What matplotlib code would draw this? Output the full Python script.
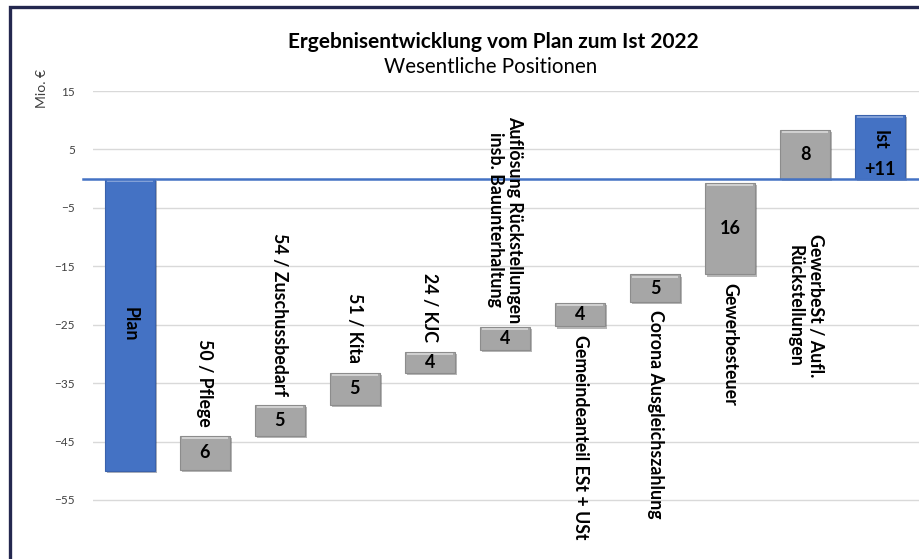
import matplotlib
matplotlib.use("Agg")
import matplotlib.pyplot as plt
import matplotlib.patches as mpatches
import matplotlib.patheffects as pe

plt.rcParams['font.family'] = ['Lato', 'DejaVu Sans']

# waterfall data (Mio. EUR)
categories = ["Plan", "50 / Pflege", "54 / Zuschussbedarf", "51 / Kita", "24 / KJC",
              "Auflösung Rückstellungen\ninsb. Bauunterhaltung",
              "Gemeindeanteil ESt + USt", "Corona Ausgleichszahlung", "Gewerbesteuer",
              "GewerbeSt / Aufl.\nRückstellungen", "Ist"]
bottoms = [-50, -49.8, -44, -38.7, -33.2, -29.4, -25.3, -21.1, -16.4, 0, 0]
tops = [0, -44.1, -38.8, -33.2, -29.6, -25.4, -21.3, -16.4, -0.8, 8.3, 10.9]
value_labels = ["", "6", "5", "5", "4", "4", "4", "5", "16", "8", "+11"]
label_side = ["inside", "above", "above", "above", "above", "above",
              "below", "below", "below", "below", "inside"]
yticks = [15, 5, -5, -15, -25, -35, -45, -55]

blue = "#4472C4"
gray = "#A6A6A6"
colors = [blue] + [gray] * 9 + [blue]
edges = ["#3A62AC"] + ["#8C8C8C"] * 9 + ["#3A62AC"]

fig = plt.figure(figsize=(9.2, 5.59), dpi=100)
ax = fig.add_axes([93 / 920, 0, 1 - 93 / 920, 1 - 91 / 559])

x = list(range(len(categories)))
heights = [t - b for t, b in zip(tops, bottoms)]
bars = ax.bar(x, heights, bottom=bottoms, width=0.67, color=colors,
              edgecolor=edges, linewidth=0.8, zorder=3)
for b in bars:
    b.set_path_effects([pe.SimplePatchShadow(offset=(1.5, -1.5), alpha=0.35), pe.Normal()])

# light bevel line along the top of each bar
for i, b in enumerate(bars):
    hl = "#D9D9D9" if colors[i] == gray else "#8FAADC"
    ax.plot([i - 0.31, i + 0.31], [tops[i] - 0.35, tops[i] - 0.35], color=hl,
            lw=1.2, zorder=4, solid_capstyle="butt")

ax.set_xlim(-0.49, 10.53)
ax.set_ylim(-65.1, 15)
ax.set_yticks(yticks)
ax.set_xticks([])
ax.tick_params(axis="y", length=0, pad=13, labelsize=8.5, labelcolor="#404040")
for s in ax.spines.values():
    s.set_visible(False)
ax.grid(axis="y", color="#D9D9D9", linewidth=1, zorder=0)
ax.axhline(0, xmin=-0.012, xmax=1, color=blue, lw=1.8, zorder=5, clip_on=False)

lbl = dict(rotation=270, fontsize=12.8, fontweight="bold", ha="center",
           multialignment="center", zorder=6)
for i, cat in enumerate(categories):
    mid = (tops[i] + bottoms[i]) / 2
    if i == 0:
        ax.text(i, mid, cat, va="center", **lbl)
    elif i == len(categories) - 1:
        ax.text(i, tops[i] - 4.3, cat, va="center", **lbl)
        ax.text(i, bottoms[i] + 1.5, value_labels[i], ha="center", va="center",
                fontsize=13, fontweight="bold", zorder=6)
        continue
    elif label_side[i] == "above":
        gap = 0.6 if "\n" in cat else 1.6
        ax.text(i, tops[i] + gap, cat, va="bottom", **lbl)
    else:
        y0 = bottoms[i] - 1.4 if bottoms[i] < 0 else bottoms[i] - 9.5
        ax.text(i, y0, cat, va="top", **lbl)
    if value_labels[i]:
        ax.text(i, mid, value_labels[i], ha="center", va="center",
                fontsize=13, fontweight="bold", zorder=6)

fig.text(42 / 920, 1 - 88 / 559, "Mio. €", rotation=90, ha="center", va="center",
         fontsize=10, color="#404040")
fig.text(493 / 920, 1 - 42 / 559, "Ergebnisentwicklung vom Plan zum Ist 2022",
         ha="center", va="center", fontsize=15, fontweight="bold")
fig.text(491 / 920, 1 - 67 / 559, "Wesentliche Positionen",
         ha="center", va="center", fontsize=14.8)

# dark frame around the chart area
frame = mpatches.Rectangle((10 / 920, -0.1), 1.2, 1 - 7 / 559 + 0.1,
                           transform=fig.transFigure, fill=False,
                           edgecolor="#24284F", linewidth=2.4, zorder=10)
fig.patches.append(frame)

fig.savefig("out.png", dpi=100)
